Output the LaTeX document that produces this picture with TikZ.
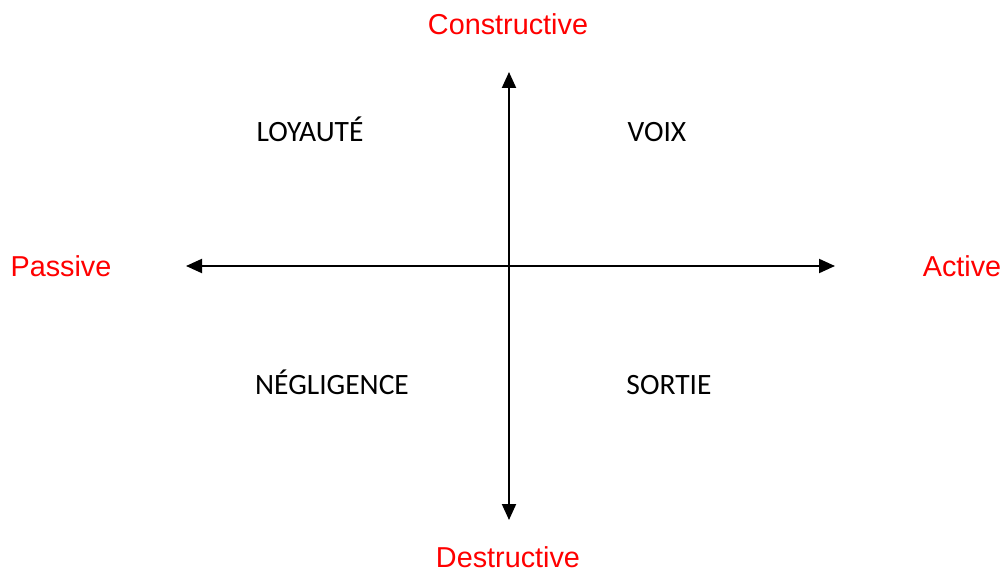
\documentclass[tikz,border=0pt]{standalone}
\usepackage{fontspec}
\setmainfont{Carlito}
\newfontfamily\arialf{Liberation Sans}
\usetikzlibrary{arrows.meta}
\definecolor{axred}{RGB}{255,0,0}
\begin{document}
\begin{tikzpicture}[x=1pt,y=-1pt,
  axis/.style={line width=2pt,{Triangle[length=16pt,width=14pt]}-{Triangle[length=16pt,width=14pt]}},
  pole/.style={text=axred,font=\arialf\fontsize{28.8}{32}\selectfont,inner sep=0pt,anchor=base},
  quad/.style={text=black,font=\fontsize{29.5}{32}\selectfont,inner sep=0pt,anchor=base}]
\useasboundingbox (0,0) rectangle (1005,572);
\coordinate (top) at (509,72);
\coordinate (bot) at (509,520);
\coordinate (lft) at (186,266);
\coordinate (rgt) at (835,266);
\draw[axis] (bot) -- (top);
\draw[axis] (lft) -- (rgt);
\node[pole] (c) at (508,35) {Constructive};
\node[pole] (d) at (508,567) {Destructive};
\node[pole] (p) at (61,277) {Passive};
\node[pole] (a) at (962,277) {Active};
\node[quad] (l) at (310,142) {LOYAUTÉ};
\node[quad] (v) at (657,142) {VOIX};
\node[quad] (n) at (332,395) {NÉGLIGENCE};
\node[quad] (s) at (669,395) {SORTIE};
\end{tikzpicture}
\end{document}
